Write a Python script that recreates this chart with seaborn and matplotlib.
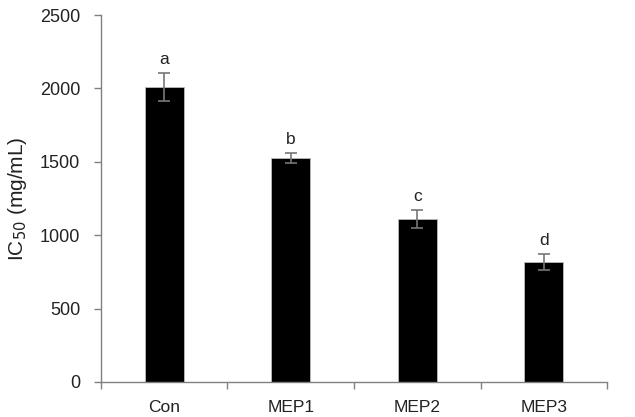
import matplotlib
matplotlib.use("Agg")
import matplotlib.pyplot as plt
import seaborn as sns
import pandas as pd
import numpy as np

categories = ["Con", "MEP1", "MEP2", "MEP3"]
values = [2008, 1525, 1112, 818]
errors = [95, 35, 60, 55]
letters = ["a", "b", "c", "d"]

sns.set_style("white")
plt.rcParams['font.family'] = ['Liberation Sans', 'DejaVu Sans']

df = pd.DataFrame({"group": categories, "ic50": values})

fig = plt.figure(figsize=(6.35, 4.17), dpi=100)
ax = fig.add_axes([0.159, 0.084, 0.797, 0.880])

sns.barplot(data=df, x="group", y="ic50", color="black", width=0.31,
            errorbar=None, ax=ax, edgecolor="#bbbbbb", linewidth=0.6)
ax.errorbar(np.arange(len(categories)), values, yerr=errors, fmt="none",
            ecolor="#777777", elinewidth=1.2, capsize=4, capthick=1.2)

for i, (v, e, l) in enumerate(zip(values, errors, letters)):
    ax.text(i, v + e + 40, l, ha="center", va="bottom", fontsize=12.5, color="#222222")

ax.set_ylim(0, 2500)
ax.set_xlim(-0.5, 3.5)
ax.set_yticks([0, 500, 1000, 1500, 2000, 2500])
ax.set_xlabel("")
ax.set_ylabel("IC$_{50}$ (mg/mL)", fontsize=15, color="#222222")
ax.yaxis.set_label_coords(-0.142, 0.5)

for s in ["top", "right"]:
    ax.spines[s].set_visible(False)
for s in ["left", "bottom"]:
    ax.spines[s].set_color("#808080")
    ax.spines[s].set_linewidth(1.0)

ax.tick_params(axis="y", which="major", direction="out", length=5, width=1,
               color="#808080", labelsize=13, labelcolor="#222222", pad=10, left=True)
ax.tick_params(axis="x", which="major", length=0, labelsize=12.5, labelcolor="#222222", pad=13)
ax.set_xticks([-0.5, 0.5, 1.5, 2.5, 3.5], minor=True)
ax.tick_params(axis="x", which="minor", direction="out", length=5, width=1,
               color="#808080", bottom=True)

fig.savefig("out.png", dpi=100)
